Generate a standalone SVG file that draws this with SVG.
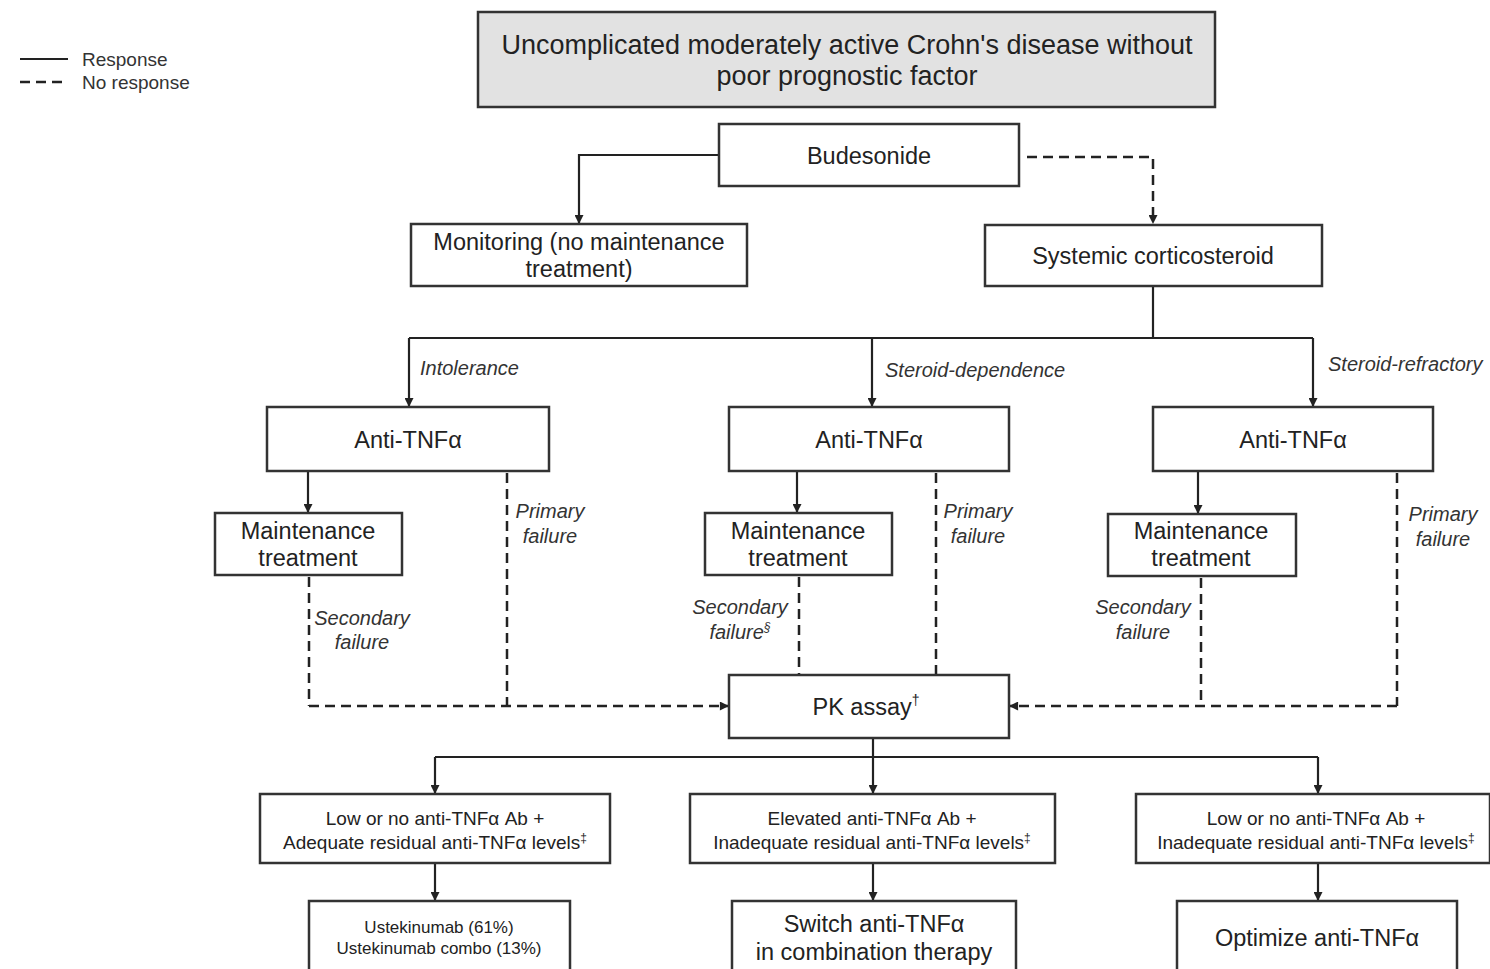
<svg xmlns="http://www.w3.org/2000/svg" width="1490" height="969" viewBox="0 0 1490 969">
<defs>
<marker id="ah" viewBox="0 0 10 10" refX="9" refY="5" markerWidth="10" markerHeight="9" orient="auto" markerUnits="userSpaceOnUse">
<path d="M0,0 L10,5 L0,10 z" fill="#222"/>
</marker>
<style>
.box{fill:#fff;stroke:#333;stroke-width:2.5}
.title{fill:#e2e2e2;stroke:#333;stroke-width:2.5}
.t{font-family:"Liberation Sans",Arial,sans-serif;fill:#222;text-anchor:middle}
.m{font-size:23.5px}
.s{font-size:19px}
.xs{font-size:17px}
.lab{font-family:"Liberation Sans",Arial,sans-serif;font-style:italic;font-size:20px;fill:#333}
.leg{font-family:"Liberation Sans",Arial,sans-serif;font-size:19px;fill:#333}
.sol{fill:none;stroke:#222;stroke-width:2.2}
.das{fill:none;stroke:#222;stroke-width:2.5;stroke-dasharray:10 6}
.arr{marker-end:url(#ah)}
</style>
</defs>
<rect width="1490" height="969" fill="#fff"/>

<g id="legend">
<line x1="20" y1="59" x2="68" y2="59" class="sol"/>
<line x1="20" y1="82" x2="68" y2="82" class="das"/>
<text x="82" y="66" class="leg">Response</text>
<text x="82" y="89" class="leg">No response</text>
</g>

<g id="connectors">
<polyline points="719,155 579,155 579,223" class="sol arr"/>
<polyline points="1027,157 1153,157 1153,223" class="das arr"/>
<line x1="1153" y1="286" x2="1153" y2="338" class="sol"/>
<line x1="409" y1="338" x2="1313" y2="338" class="sol"/>
<line x1="409" y1="338" x2="409" y2="406" class="sol arr"/>
<line x1="872" y1="338" x2="872" y2="406" class="sol arr"/>
<line x1="1313" y1="338" x2="1313" y2="406" class="sol arr"/>
<line x1="308" y1="471" x2="308" y2="512" class="sol arr"/>
<line x1="797" y1="471" x2="797" y2="512" class="sol arr"/>
<line x1="1198" y1="471" x2="1198" y2="513" class="sol arr"/>
<line x1="507" y1="473" x2="507" y2="706" class="das"/>
<line x1="309" y1="577" x2="309" y2="706" class="das"/>
<polyline points="309,706 728,706" class="das arr"/>
<line x1="936" y1="473" x2="936" y2="674" class="das"/>
<line x1="799" y1="577" x2="799" y2="674" class="das"/>
<line x1="1397" y1="473" x2="1397" y2="706" class="das"/>
<line x1="1201" y1="578" x2="1201" y2="706" class="das"/>
<polyline points="1397,706 1010,706" class="das arr"/>
<line x1="873" y1="738" x2="873" y2="757" class="sol"/>
<line x1="435" y1="757" x2="1318" y2="757" class="sol"/>
<line x1="435" y1="757" x2="435" y2="793" class="sol arr"/>
<line x1="873" y1="757" x2="873" y2="793" class="sol arr"/>
<line x1="1318" y1="757" x2="1318" y2="793" class="sol arr"/>
<line x1="435" y1="863" x2="435" y2="900" class="sol arr"/>
<line x1="873" y1="863" x2="873" y2="900" class="sol arr"/>
<line x1="1318" y1="863" x2="1318" y2="900" class="sol arr"/>
</g>

<g id="labels">
<text x="420" y="375" class="lab">Intolerance</text>
<text x="885" y="377" class="lab">Steroid-dependence</text>
<text x="1328" y="371" class="lab">Steroid-refractory</text>
<text x="550" y="518" class="lab" text-anchor="middle">Primary</text>
<text x="550" y="543" class="lab" text-anchor="middle">failure</text>
<text x="978" y="518" class="lab" text-anchor="middle">Primary</text>
<text x="978" y="543" class="lab" text-anchor="middle">failure</text>
<text x="1443" y="521" class="lab" text-anchor="middle">Primary</text>
<text x="1443" y="546" class="lab" text-anchor="middle">failure</text>
<text x="362" y="625" class="lab" text-anchor="middle">Secondary</text>
<text x="362" y="649" class="lab" text-anchor="middle">failure</text>
<text x="740" y="614" class="lab" text-anchor="middle">Secondary</text>
<text x="740" y="639" class="lab" text-anchor="middle">failure<tspan font-size="12" dy="-8">§</tspan></text>
<text x="1143" y="614" class="lab" text-anchor="middle">Secondary</text>
<text x="1143" y="639" class="lab" text-anchor="middle">failure</text>
</g>

<g id="n-title">
<rect x="478" y="12" width="737" height="95" class="title"/>
<text x="847" y="54" class="t" style="font-size:27px">Uncomplicated moderately active Crohn's disease without</text>
<text x="847" y="85" class="t" style="font-size:27px">poor prognostic factor</text>
</g>
<g id="n-budesonide">
<rect x="719" y="124" width="300" height="62" class="box"/>
<text x="869" y="164" class="t m">Budesonide</text>
</g>
<g id="n-monitoring">
<rect x="411" y="224" width="336" height="62" class="box"/>
<text x="579" y="250" class="t m">Monitoring (no maintenance</text>
<text x="579" y="277" class="t m">treatment)</text>
</g>
<g id="n-systemic">
<rect x="985" y="225" width="337" height="61" class="box"/>
<text x="1153" y="264" class="t m">Systemic corticosteroid</text>
</g>
<g id="n-anti1">
<rect x="267" y="407" width="282" height="64" class="box"/>
<text x="408" y="448" class="t m">Anti-TNFα</text>
</g>
<g id="n-anti2">
<rect x="729" y="407" width="280" height="64" class="box"/>
<text x="869" y="448" class="t m">Anti-TNFα</text>
</g>
<g id="n-anti3">
<rect x="1153" y="407" width="280" height="64" class="box"/>
<text x="1293" y="448" class="t m">Anti-TNFα</text>
</g>
<g id="n-maint1">
<rect x="215" y="513" width="187" height="62" class="box"/>
<text x="308" y="539" class="t m">Maintenance</text>
<text x="308" y="566" class="t m">treatment</text>
</g>
<g id="n-maint2">
<rect x="705" y="513" width="187" height="62" class="box"/>
<text x="798" y="539" class="t m">Maintenance</text>
<text x="798" y="566" class="t m">treatment</text>
</g>
<g id="n-maint3">
<rect x="1108" y="514" width="188" height="62" class="box"/>
<text x="1201" y="539" class="t m">Maintenance</text>
<text x="1201" y="566" class="t m">treatment</text>
</g>
<g id="n-pk">
<rect x="729" y="675" width="280" height="63" class="box"/>
<text x="866" y="715" class="t m">PK assay<tspan font-size="14" dy="-10">†</tspan></text>
</g>
<g id="n-r1">
<rect x="260" y="794" width="350" height="69" class="box"/>
<text x="435" y="825" class="t s">Low or no anti-TNFα Ab +</text>
<text x="435" y="849" class="t s">Adequate residual anti-TNFα levels<tspan font-size="12" dy="-7">‡</tspan></text>
</g>
<g id="n-r2">
<rect x="690" y="794" width="365" height="69" class="box"/>
<text x="872" y="825" class="t s">Elevated anti-TNFα Ab +</text>
<text x="872" y="849" class="t s">Inadequate residual anti-TNFα levels<tspan font-size="12" dy="-7">‡</tspan></text>
</g>
<g id="n-r3">
<rect x="1136" y="794" width="354" height="69" class="box"/>
<text x="1316" y="825" class="t s">Low or no anti-TNFα Ab +</text>
<text x="1316" y="849" class="t s">Inadequate residual anti-TNFα levels<tspan font-size="12" dy="-7">‡</tspan></text>
</g>
<g id="n-u">
<rect x="309" y="901" width="261" height="75" class="box"/>
<text x="439" y="933" class="t xs">Ustekinumab (61%)</text>
<text x="439" y="954" class="t xs">Ustekinumab combo (13%)</text>
</g>
<g id="n-switch">
<rect x="732" y="901" width="284" height="75" class="box"/>
<text x="874" y="932" class="t m">Switch anti-TNFα</text>
<text x="874" y="960" class="t m">in combination therapy</text>
</g>
<g id="n-opt">
<rect x="1177" y="901" width="280" height="75" class="box"/>
<text x="1317" y="946" class="t m">Optimize anti-TNFα</text>
</g>
</svg>
